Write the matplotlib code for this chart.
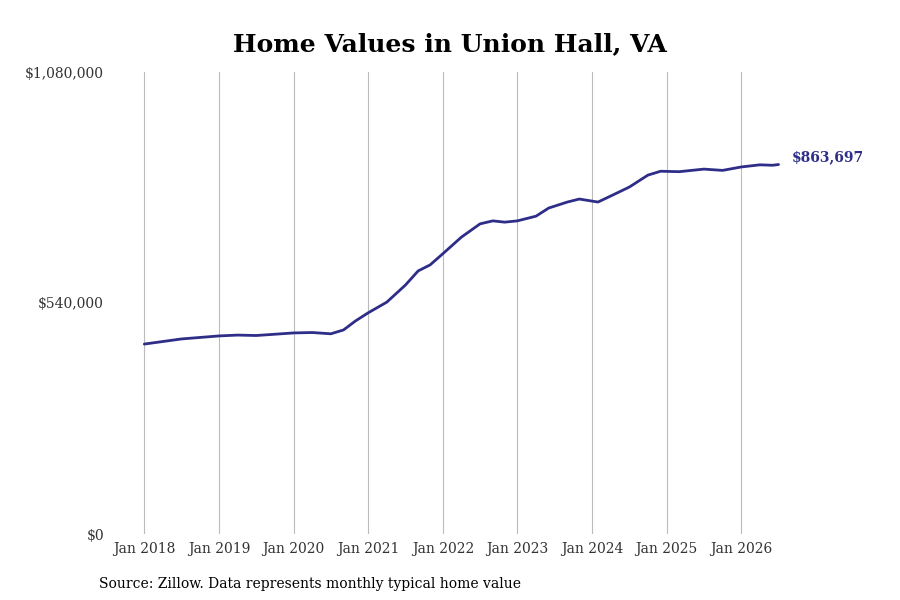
import matplotlib
matplotlib.use("Agg")
import matplotlib.pyplot as plt
from matplotlib import ticker

# Typical home value (approx)
years = [2018.0, 2018.5, 2019.0, 2019.25, 2019.5, 2020.0, 2020.25, 2020.5, 2020.67,
         2020.83, 2021.0, 2021.25, 2021.5, 2021.67, 2021.83, 2022.0, 2022.25, 2022.5,
         2022.67, 2022.83, 2023.0, 2023.25, 2023.42, 2023.67, 2023.83, 2024.08, 2024.25,
         2024.5, 2024.75, 2024.92, 2025.17, 2025.5, 2025.75, 2026.0, 2026.25, 2026.42, 2026.5]
values = [444000, 456000, 463000, 465000, 464000, 470000, 471000, 468000, 477000,
          498000, 517000, 542000, 582000, 615000, 629000, 655000, 694000, 725000,
          732000, 729000, 732000, 743000, 762000, 776000, 783000, 776000, 790000,
          811000, 839000, 848000, 847000, 853000, 850000, 858000, 863000, 862000, 863697]
tick_years = list(range(2018, 2027))
tick_labels = [f"Jan {y}" for y in tick_years]

line_color = "#2e2d88"
plt.rcParams["font.family"] = ["DejaVu Serif"]

fig = plt.figure(figsize=(9, 6), dpi=100)
ax = fig.add_axes([0.128, 0.11, 0.742, 0.77])
ax.plot(years, values, color=line_color, linewidth=2, solid_capstyle="round",
        solid_joinstyle="round")

ax.set_xlim(2017.61, 2026.56)
ax.set_ylim(0, 1080000)
ax.set_xticks(tick_years)
ax.set_xticklabels(tick_labels, fontsize=10, color="#333333")
ax.set_yticks([0, 540000, 1080000])
ax.yaxis.set_major_formatter(ticker.FuncFormatter(lambda v, _: f"${v:,.0f}"))
ax.tick_params(axis="both", length=0, labelsize=10, labelcolor="#333333")
ax.tick_params(axis="x", pad=6)
ax.tick_params(axis="y", pad=8)
ax.grid(axis="x", color="#bbbbbb", linewidth=0.8)
for s in ax.spines.values():
    s.set_visible(False)

ax.text(years[-1] + 0.18, values[-1], f"${values[-1]:,.0f}", color=line_color,
        fontsize=10, fontweight="bold", va="bottom", ha="left", clip_on=False)

fig.text(0.5, 0.915, "Home Values in Union Hall, VA", ha="center", fontsize=18,
         fontweight="bold")
fig.text(0.11, 0.02, "Source: Zillow. Data represents monthly typical home value",
         fontsize=10)

fig.savefig("out.png", dpi=100)
